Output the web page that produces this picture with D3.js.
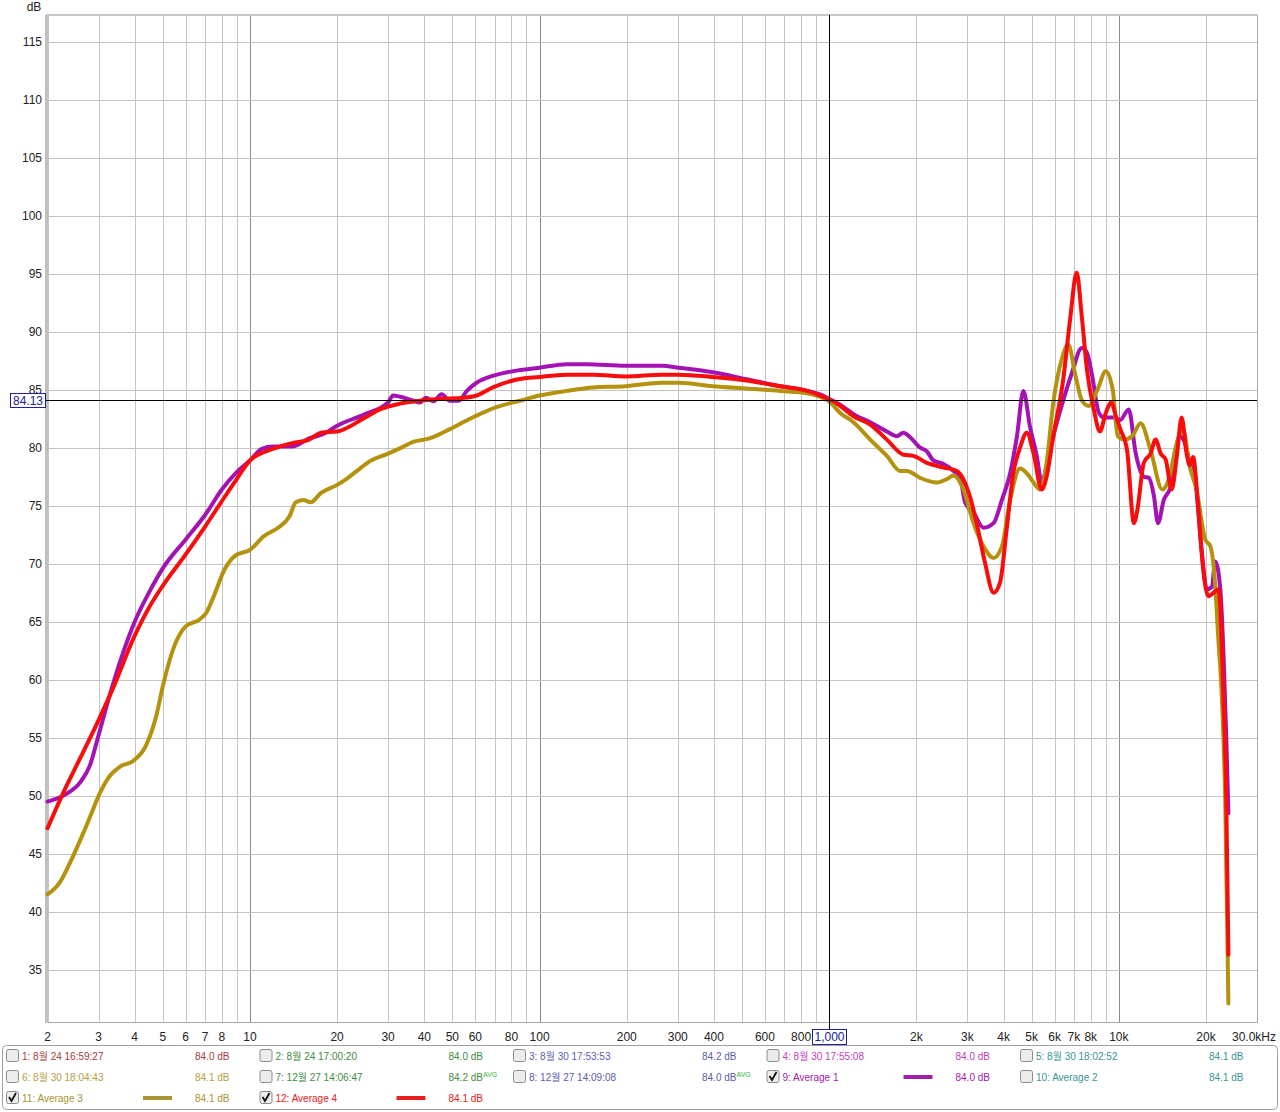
<!DOCTYPE html>
<html>
<head>
<meta charset="utf-8">
<script src="https://cdn.jsdelivr.net/npm/d3@7"></script>
<style>
  body { margin: 0; background: #fff; }
  svg { display: block; font-family: "Liberation Sans", Arial, "Noto Sans CJK KR", sans-serif; }
</style>
</head>
<body>
<div id="chart"></div>
<script>
// frequency response data (Hz, dB)
const freqAvg1 = [2, 2.3, 2.6, 2.8, 3, 3.3, 3.6, 4, 4.5, 5, 6, 7, 8, 9, 10, 11, 12, 14, 16, 18, 20, 25, 30, 31.2, 33, 36.6, 38.6, 40.5, 43, 45.9, 49, 52.5, 56.1, 60.6, 69, 81, 100, 124, 145, 198, 265, 302, 397, 519, 678, 839, 931, 1000, 1091, 1213, 1385, 1582, 1712, 1805, 1903, 2061, 2172, 2290, 2480, 2688, 2832, 2945, 3150, 3410, 3694, 3947, 4216, 4450, 4682, 4937, 5208, 5416, 5632, 5940, 6430, 6878, 7452, 7765, 8090, 8540, 8899, 9528, 10118, 10820, 11442, 12197, 12700, 13226, 13650, 14300, 15030, 16220, 16870, 17570, 18300, 19310, 20110, 20960, 21530, 22410, 23000, 23500, 23900];
const dbAvg1 = [49.5, 50.1, 51.2, 52.6, 55.2, 58.9, 61.9, 65.0, 67.6, 69.6, 72.1, 74.2, 76.4, 77.9, 78.9, 79.9, 80.1, 80.1, 80.8, 81.2, 81.9, 82.9, 83.9, 84.5, 84.4, 84.05, 83.9, 84.3, 84.0, 84.6, 84.05, 84.05, 84.9, 85.6, 86.2, 86.6, 86.9, 87.2, 87.2, 87.07, 87.07, 86.9, 86.5, 85.9, 85.3, 84.9, 84.6, 84.2, 83.7, 82.9, 82.2, 81.4, 81.0, 81.3, 80.9, 80.0, 79.7, 78.9, 78.6, 78.0, 77.4, 75.3, 74.4, 73.1, 73.5, 75.5, 77.8, 81.0, 84.9, 81.8, 79.3, 77.0, 78.4, 81.0, 84.1, 86.4, 88.6, 88.2, 86.2, 83.0, 82.6, 82.6, 82.4, 83.3, 79.5, 77.5, 77.4, 75.8, 73.5, 75.5, 76.5, 81.0, 80.5, 78.7, 77.5, 71.2, 67.8, 68.0, 70.2, 67.8, 62.0, 55.0, 48.5];

const freqAvg3 = [2, 2.2, 2.42, 2.66, 2.87, 3.03, 3.28, 3.55, 3.95, 4.37, 4.75, 5.03, 5.48, 6, 6.7, 7.08, 7.5, 8.17, 8.9, 10, 11.2, 12.5, 13.7, 14.4, 15.3, 16.2, 17.6, 20, 21.5, 23.4, 26.2, 29.4, 33.9, 36.6, 41.7, 49, 57.5, 62.2, 70.9, 85.5, 100, 124, 153, 198, 265, 302, 397, 519, 678, 839, 1000, 1091, 1213, 1385, 1582, 1757, 1854, 2061, 2353, 2548, 2688, 2905, 3150, 3410, 3694, 3947, 4216, 4560, 4810, 5078, 5344, 5632, 5940, 6348, 6694, 7062, 7452, 7870, 8440, 9018, 9528, 9913, 10440, 11130, 11890, 12870, 14130, 14840, 15850, 16650, 17570, 18530, 19880, 20710, 21500, 22000, 22700, 23300, 23900];
const dbAvg3 = [41.5, 42.5, 44.5, 46.8, 48.8, 50.2, 51.7, 52.5, 53.0, 54.3, 56.9, 59.7, 62.9, 64.6, 65.2, 65.8, 67.2, 69.5, 70.7, 71.2, 72.4, 73.1, 74.1, 75.3, 75.5, 75.3, 76.1, 76.8, 77.3, 78.0, 78.9, 79.4, 80.1, 80.5, 80.8, 81.6, 82.5, 82.9, 83.5, 84.05, 84.5, 84.9, 85.2, 85.3, 85.6, 85.6, 85.3, 85.1, 84.9, 84.7, 84.0, 83.0, 82.2, 80.7, 79.3, 78.0, 78.0, 77.4, 77.0, 77.3, 77.6, 76.4, 73.5, 71.5, 70.5, 71.5, 75.5, 78.2, 77.8, 77.0, 76.4, 78.7, 83.9, 87.6, 88.9, 86.4, 84.1, 83.6, 85.0, 86.6, 85.0, 81.0, 80.7, 81.0, 82.1, 79.8, 76.4, 77.2, 80.4, 81.6, 78.4, 76.4, 72.1, 71.5, 68.3, 64.0, 58.3, 49.7, 32.1];

const freqAvg4 = [2, 2.27, 2.6, 3, 3.37, 4, 4.5, 5, 6, 7, 8, 9, 10, 12, 14, 16, 17.6, 20, 25, 28.1, 32.9, 38.6, 45, 54.6, 60.6, 69, 81, 100, 124, 153, 198, 265, 302, 397, 519, 678, 839, 976, 1000, 1091, 1213, 1385, 1582, 1805, 1953, 2172, 2480, 2760, 2905, 3060, 3230, 3450, 3694, 3891, 4101, 4322, 4560, 4810, 5078, 5416, 5632, 5940, 6430, 6785, 7155, 7452, 7765, 8197, 8604, 9018, 9400, 9780, 10118, 10675, 11280, 11600, 12197, 12870, 13400, 13950, 14500, 15230, 15850, 16480, 17140, 17570, 18050, 18760, 19510, 20400, 21240, 22070, 23000, 23500, 23900];
const dbAvg4 = [47.2, 50.3, 53.3, 56.5, 59.3, 63.8, 66.3, 68.1, 70.8, 73.2, 75.4, 77.3, 78.9, 79.9, 80.4, 80.7, 81.3, 81.4, 82.6, 83.3, 83.8, 84.05, 84.2, 84.3, 84.5, 85.2, 85.8, 86.1, 86.3, 86.3, 86.15, 86.3, 86.3, 86.1, 85.8, 85.3, 84.9, 84.3, 84.2, 83.6, 82.7, 82.0, 80.7, 79.4, 79.3, 78.7, 78.3, 78.0, 77.3, 75.8, 73.5, 70.1, 67.5, 68.4, 73.0, 77.8, 80.0, 81.3, 79.5, 76.4, 77.5, 81.0, 85.9, 91.0, 95.1, 91.3, 86.7, 83.3, 81.4, 83.0, 83.9, 82.7, 81.6, 79.8, 73.5, 74.7, 78.7, 79.5, 80.7, 79.5, 79.0, 76.4, 79.2, 82.6, 79.5, 78.5, 79.2, 75.2, 69.8, 67.2, 67.5, 67.8, 58.3, 49.7, 36.3];

// axis ticks
const yTicks = [35, 40, 45, 50, 55, 60, 65, 70, 75, 80, 85, 90, 95, 100, 105, 110, 115];
const xTickValues = [2, 3, 4, 5, 6, 7, 8, 10, 20, 30, 40, 50, 60, 80, 100, 200, 300, 400, 600, 800, 2000, 3000, 4000, 5000, 6000, 7000, 8000, 10000, 20000, 30000];
const xTickLabels = ["2", "3", "4", "5", "6", "7", "8", "10", "20", "30", "40", "50", "60", "80", "100", "200", "300", "400", "600", "800", "2k", "3k", "4k", "5k", "6k", "7k", "8k", "10k", "20k", "30.0kHz"];

// cursor
const cursorFreq = 1000;
const cursorLevel = 84.13;

// legend
const legendNames = ["1: 8월 24 16:59:27", "2: 8월 24 17:00:20", "3: 8월 30 17:53:53", "4: 8월 30 17:55:08", "5: 8월 30 18:02:52", "6: 8월 30 18:04:43", "7: 12월 27 14:06:47", "8: 12월 27 14:09:08", "9: Average 1", "10: Average 2", "11: Average 3", "12: Average 4"];
const legendLevels = ["84.0 dB", "84.0 dB", "84.2 dB", "84.0 dB", "84.1 dB", "84.1 dB", "84.2 dB", "84.0 dB", "84.0 dB", "84.1 dB", "84.1 dB", "84.1 dB"];
const legendAvgMark = [false, false, false, false, false, false, true, true, false, false, false, false];
const legendChecked = [false, false, false, false, false, false, false, false, true, false, true, true];
const legendColors = ["#a83a3a", "#3e8c3e", "#5c5cb0", "#c040c0", "#3a9494", "#b4a040", "#3e8c3e", "#5c5ca8", "#a020a8", "#3a9494", "#a89430", "#e82020"];

const W = 1280, H = 1112;
const plot = { left: 46, right: 1257, top: 15, bottom: 1022 };

const svg = d3.select("#chart").append("svg")
    .attr("width", W)
    .attr("height", H);

const x = d3.scaleLog().domain([2, 30000]).range([47.5, plot.right]);
const y = d3.scaleLinear().domain([30.5, 117.3]).range([plot.bottom, plot.top]);

// grid lines
const gridFreqs = [];
[1, 10, 100, 1000, 10000].forEach(dec => {
    for (let m = 1; m <= 9; m++) {
        const f = dec * m;
        if (f >= 2 && f <= 30000) gridFreqs.push(f);
    }
});

const grid = svg.append("g");
grid.selectAll("line.vg")
    .data(gridFreqs)
    .join("line")
    .attr("x1", d => Math.round(x(d)) + 0.5)
    .attr("x2", d => Math.round(x(d)) + 0.5)
    .attr("y1", plot.top)
    .attr("y2", plot.bottom)
    .attr("stroke", d => [10, 100, 10000].includes(d) ? "#8a8a8a" : "#c4c4c4")
    .attr("stroke-width", 1);

grid.selectAll("line.hg")
    .data(yTicks)
    .join("line")
    .attr("x1", plot.left)
    .attr("x2", plot.right)
    .attr("y1", d => Math.round(y(d)) + 0.5)
    .attr("y2", d => Math.round(y(d)) + 0.5)
    .attr("stroke", "#c4c4c4")
    .attr("stroke-width", 1);

// frame
svg.append("rect")
    .attr("x", plot.left + 0.5)
    .attr("y", plot.top + 0.5)
    .attr("width", plot.right - plot.left)
    .attr("height", plot.bottom - plot.top)
    .attr("fill", "none")
    .attr("stroke", "#a8a8a8");
svg.append("rect")
    .attr("x", plot.left - 1)
    .attr("y", plot.top)
    .attr("width", 3)
    .attr("height", plot.bottom - plot.top + 1)
    .attr("fill", "#c0c0c0");
svg.append("rect")
    .attr("x", plot.left)
    .attr("y", plot.top - 1)
    .attr("width", plot.right - plot.left + 1)
    .attr("height", 2)
    .attr("fill", "#c8c8c8");

// y axis labels
svg.append("g")
    .selectAll("text")
    .data(yTicks)
    .join("text")
    .attr("x", 42)
    .attr("y", d => y(d))
    .attr("dy", "0.35em")
    .attr("text-anchor", "end")
    .attr("font-size", 12)
    .attr("fill", "#222")
    .text(d => d);

svg.append("text")
    .attr("x", 34)
    .attr("y", 7)
    .attr("dy", "0.35em")
    .attr("text-anchor", "middle")
    .attr("font-size", 12)
    .attr("fill", "#222")
    .text("dB");

// x axis labels
svg.append("g")
    .selectAll("text")
    .data(xTickValues)
    .join("text")
    .attr("x", (d, i) => i === xTickValues.length - 1 ? 1276 : x(d))
    .attr("y", 1041)
    .attr("text-anchor", (d, i) => i === xTickValues.length - 1 ? "end" : "middle")
    .attr("font-size", 12)
    .attr("fill", "#222")
    .text((d, i) => xTickLabels[i]);

// curves
const line = d3.line()
    .x(d => x(d[0]))
    .y(d => y(d[1]))
    .curve(d3.curveMonotoneX);

const series = [
    { f: freqAvg1, v: dbAvg1, color: "#a412b4" },
    { f: freqAvg3, v: dbAvg3, color: "#b4920e" },
    { f: freqAvg4, v: dbAvg4, color: "#f80c0c" },
];

svg.append("g")
    .selectAll("path")
    .data(series)
    .join("path")
    .attr("d", s => line(s.f.map((f, i) => [f, s.v[i]])))
    .attr("fill", "none")
    .attr("stroke", s => s.color)
    .attr("stroke-width", 4)
    .attr("stroke-linejoin", "round")
    .attr("stroke-linecap", "round");

// cursor lines
const cx = Math.round(x(cursorFreq)) + 0.5;
const cy = Math.round(y(cursorLevel)) + 0.5;
svg.append("line")
    .attr("x1", plot.left).attr("x2", plot.right)
    .attr("y1", cy).attr("y2", cy)
    .attr("stroke", "#000");
svg.append("line")
    .attr("x1", cx).attr("x2", cx)
    .attr("y1", plot.top).attr("y2", 1029)
    .attr("stroke", "#000");

// cursor boxes
svg.append("rect")
    .attr("x", 10.5).attr("y", cy - 7)
    .attr("width", 35).attr("height", 14)
    .attr("fill", "#fff").attr("stroke", "#20209a");
svg.append("text")
    .attr("x", 28).attr("y", cy)
    .attr("dy", "0.35em")
    .attr("text-anchor", "middle")
    .attr("font-size", 12)
    .attr("fill", "#20209a")
    .text(cursorLevel.toFixed(2));

svg.append("rect")
    .attr("x", cx - 17).attr("y", 1029.5)
    .attr("width", 34).attr("height", 15)
    .attr("fill", "#fff").attr("stroke", "#20209a");
svg.append("text")
    .attr("x", cx).attr("y", 1041)
    .attr("text-anchor", "middle")
    .attr("font-size", 12)
    .attr("fill", "#20209a")
    .text(d3.format(",")(cursorFreq));

// legend
svg.append("rect")
    .attr("x", 2.5).attr("y", 1045.5)
    .attr("width", 1275).attr("height", 64)
    .attr("rx", 4)
    .attr("fill", "#fff")
    .attr("stroke", "#a0a0a0");

const entry = svg.append("g")
    .selectAll("g")
    .data(legendNames)
    .join("g")
    .attr("transform", (d, i) => `translate(${6 + (i % 5) * 253.5},${1056 + Math.floor(i / 5) * 21})`);

entry.append("rect")
    .attr("x", 0.5).attr("y", -6.5)
    .attr("width", 12).attr("height", 12)
    .attr("rx", 2)
    .attr("fill", "#ececec")
    .attr("stroke", "#8c8c8c");

entry.filter((d, i) => legendChecked[i])
    .append("path")
    .attr("d", "M3,-1 L5.5,3 L10,-5")
    .attr("fill", "none")
    .attr("stroke", "#111")
    .attr("stroke-width", 1.8);

entry.append("text")
    .attr("x", 16)
    .attr("dy", "0.35em")
    .attr("font-size", 10)
    .attr("fill", (d, i) => legendColors[i])
    .text(d => d);

entry.filter((d, i) => legendChecked[i])
    .append("line")
    .attr("x1", 137).attr("x2", 166)
    .attr("y1", 0).attr("y2", 0)
    .attr("stroke", d => legendColors[legendNames.indexOf(d)])
    .attr("stroke-width", 4);

const level = entry.append("text")
    .attr("x", 189)
    .attr("dy", "0.35em")
    .attr("font-size", 10)
    .attr("fill", (d, i) => legendColors[i])
    .text((d, i) => legendLevels[i]);

level.filter((d, i) => legendAvgMark[i])
    .append("tspan")
    .attr("dy", "-0.45em")
    .attr("font-size", 7)
    .attr("fill", "#3cb43c")
    .text("AVG");
</script>
</body>
</html>
